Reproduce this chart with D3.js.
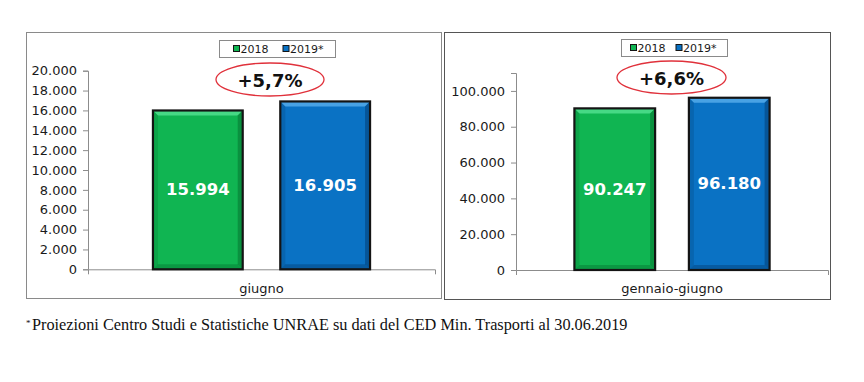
<!DOCTYPE html>
<html>
<head>
<meta charset="utf-8">
<script src="https://cdn.jsdelivr.net/npm/d3@7"></script>
<style>
  body { margin: 0; background: #fff; }
  svg { display: block; }
</style>
</head>
<body>
<div id="chart"></div>
<script>
(function () {

  // Data
  const years = ["2018", "2019*"]
  const periods = ["giugno", "gennaio-giugno"]
  const valuesGiugno = [15994, 16905]
  const valuesGennaioGiugno = [90247, 96180]
  const changes = ["+5,7%", "+6,6%"]
  const ticksGiugno = [0, 2000, 4000, 6000, 8000, 10000, 12000, 14000, 16000, 18000, 20000]
  const ticksGennaioGiugno = [0, 20000, 40000, 60000, 80000, 100000]
  const yMax = [20000, 110000]
  const note = "Proiezioni Centro Studi e Statistiche UNRAE su dati del CED Min. Trasporti al 30.06.2019"

  const W = 864, H = 382

  // Italian number format: 16.905
  const it = d3.formatLocale({ decimal: ",", thousands: ".", grouping: [3], currency: ["", " €"] })
  const fmt = it.format(",d")

  const colors = {
    "2018":  { base: "#10b552", light: "#46d985", dark: "#08853a" },
    "2019*": { base: "#0a72c4", light: "#48a2e4", dark: "#054c8a" }
  }

  const svg = d3.select("#chart").append("svg")
    .attr("width", W)
    .attr("height", H)

  svg.append("rect").attr("width", W).attr("height", H).attr("fill", "#fff")

  // Layout of the two panels
  const panels = [
    { period: periods[0], values: valuesGiugno, change: changes[0], ticks: ticksGiugno, max: yMax[0],
      frame: [26, 32, 415, 266], stroke: "#8a8a8a",
      plot: { x0: 88, x1: 435, top: 70.7, bottom: 269.3 },
      legend: { x: 219, y: 40, w: 116, pad: 14, gap: 14 },
      ellipse: { cx: 270, cy: 79.5, rx: 54, ry: 16.5 } },
    { period: periods[1], values: valuesGennaioGiugno, change: changes[1], ticks: ticksGennaioGiugno, max: yMax[1],
      frame: [444, 32, 386, 267], stroke: "#555",
      plot: { x0: 516, x1: 828, top: 73, bottom: 270 },
      legend: { x: 621, y: 39, w: 106, pad: 9, gap: 10 },
      ellipse: { cx: 671.5, cy: 77.5, rx: 54.5, ry: 16.5 } }
  ]

  panels.forEach(p => {
    const g = svg.append("g")

    // Frame
    g.append("rect")
      .attr("x", p.frame[0] + 0.5).attr("y", p.frame[1] + 0.5)
      .attr("width", p.frame[2]).attr("height", p.frame[3])
      .attr("fill", "#fff")
      .attr("stroke", p.stroke)
      .attr("stroke-width", 1)

    // Scales
    const y = d3.scaleLinear().domain([0, p.max]).range([p.plot.bottom, p.plot.top])
    const x = d3.scaleBand().domain(years).range([p.plot.x0, p.plot.x1])
      .paddingInner(0.295).paddingOuter(0.51)
    const xCat = d3.scaleBand().domain([p.period]).range([p.plot.x0, p.plot.x1])

    // Y axis
    const yAxis = g.append("g")
      .attr("transform", `translate(${p.plot.x0},0)`)
      .call(d3.axisLeft(y).tickValues(p.ticks).tickFormat(fmt).tickSize(5).tickPadding(6))
    yAxis.select(".domain").attr("stroke", "#8c8c8c")
    yAxis.selectAll(".tick line").attr("stroke", "#8c8c8c")
    yAxis.selectAll("text")
      .attr("fill", "#1a1a1a")
      .style("font-family", "'DejaVu Sans', Verdana, sans-serif")
      .style("font-size", "13px")

    // X axis
    const xAxis = g.append("g")
      .attr("transform", `translate(0,${p.plot.bottom})`)
      .call(d3.axisBottom(xCat).tickSizeInner(0).tickSizeOuter(5).tickPadding(14))
    xAxis.select(".domain").attr("stroke", "#8c8c8c")
    xAxis.selectAll("text")
      .attr("fill", "#1a1a1a")
      .style("font-family", "'DejaVu Sans', Verdana, sans-serif")
      .style("font-size", "13px")

    // Bars with a bevel look
    const data = years.map((yr, i) => ({ year: yr, value: p.values[i] }))
    const b = 5
    const bars = g.selectAll("g.bar")
      .data(data)
      .join("g")
      .attr("class", "bar")

    bars.each(function (d) {
      const el = d3.select(this)
      const x0 = x(d.year), x1 = x0 + x.bandwidth()
      const y0 = y(d.value), y1 = y(0)
      const c = colors[d.year]
      el.append("rect")
        .attr("x", x0).attr("y", y0)
        .attr("width", x1 - x0).attr("height", y1 - y0)
        .attr("fill", c.base)
      // top bevel
      el.append("polygon")
        .attr("points", [[x0, y0], [x1, y0], [x1 - b, y0 + b], [x0 + b, y0 + b]].join(" "))
        .attr("fill", c.light)
      // right bevel
      el.append("polygon")
        .attr("points", [[x1, y0], [x1, y1], [x1 - b, y1 - b], [x1 - b, y0 + b]].join(" "))
        .attr("fill", c.dark).attr("opacity", 0.75)
      // bottom bevel
      el.append("polygon")
        .attr("points", [[x0, y1], [x1, y1], [x1 - b, y1 - b], [x0 + b, y1 - b]].join(" "))
        .attr("fill", c.dark).attr("opacity", 0.6)
      // left bevel
      el.append("polygon")
        .attr("points", [[x0, y0], [x0, y1], [x0 + b, y1 - b], [x0 + b, y0 + b]].join(" "))
        .attr("fill", c.dark).attr("opacity", 0.35)
      // outline
      el.append("rect")
        .attr("x", x0).attr("y", y0)
        .attr("width", x1 - x0).attr("height", y1 - y0)
        .attr("fill", "none")
        .attr("stroke", "#141414")
        .attr("stroke-width", 2.2)
      // value label
      el.append("text")
        .attr("x", (x0 + x1) / 2)
        .attr("y", (y0 + y1) / 2)
        .attr("text-anchor", "middle")
        .attr("dominant-baseline", "central")
        .attr("fill", "#fff")
        .style("font-family", "'DejaVu Sans', Verdana, sans-serif")
        .style("font-weight", "bold")
        .style("font-size", "16.5px")
        .text(fmt(d.value))
    })

    // Legend
    const lg = g.append("g")
    lg.append("rect")
      .attr("x", p.legend.x + 0.5).attr("y", p.legend.y + 0.5)
      .attr("width", p.legend.w).attr("height", 17)
      .attr("fill", "#fff").attr("stroke", "#8a8a8a")
    let lx = p.legend.x + p.legend.pad
    years.forEach(yr => {
      lg.append("rect")
        .attr("x", lx + 0.5).attr("y", p.legend.y + 5.5)
        .attr("width", 6).attr("height", 6)
        .attr("fill", colors[yr].base)
        .attr("stroke", "#141414").attr("stroke-width", 1)
      const t = lg.append("text")
        .attr("x", lx + 7.5)
        .attr("y", p.legend.y + 9)
        .attr("dominant-baseline", "central")
        .attr("fill", "#1a1a1a")
        .style("font-family", "'DejaVu Sans', Verdana, sans-serif")
        .style("font-size", "11px")
        .text(yr)
      lx += 7.5 + t.node().getComputedTextLength() + p.legend.gap
    })

    // Percentage change in a red ellipse
    g.append("ellipse")
      .attr("cx", p.ellipse.cx).attr("cy", p.ellipse.cy)
      .attr("rx", p.ellipse.rx).attr("ry", p.ellipse.ry)
      .attr("fill", "none")
      .attr("stroke", "#e0313b")
      .attr("stroke-width", 1.3)
    g.append("text")
      .attr("x", p.ellipse.cx)
      .attr("y", p.ellipse.cy + 1)
      .attr("text-anchor", "middle")
      .attr("dominant-baseline", "central")
      .attr("fill", "#111")
      .style("font-family", "'DejaVu Sans', Verdana, sans-serif")
      .style("font-weight", "bold")
      .style("font-size", "18px")
      .text(p.change)
  })

  // Footnote: asterisk then the note, sized to span the same width as the original
  svg.append("text")
    .attr("x", 26)
    .attr("y", 326)
    .attr("fill", "#111")
    .style("font-family", "'Liberation Serif', 'Times New Roman', serif")
    .style("font-size", "9px")
    .text("*")
  const fn = svg.append("text")
    .attr("x", 32)
    .attr("y", 330)
    .attr("fill", "#111")
    .style("font-family", "'Liberation Serif', 'Times New Roman', serif")
    .style("font-size", "14px")
    .text(note)
  const natural = fn.node().getComputedTextLength()
  fn.style("font-size", (14 * 596 / natural).toFixed(2) + "px")

})();
</script>
</body>
</html>
